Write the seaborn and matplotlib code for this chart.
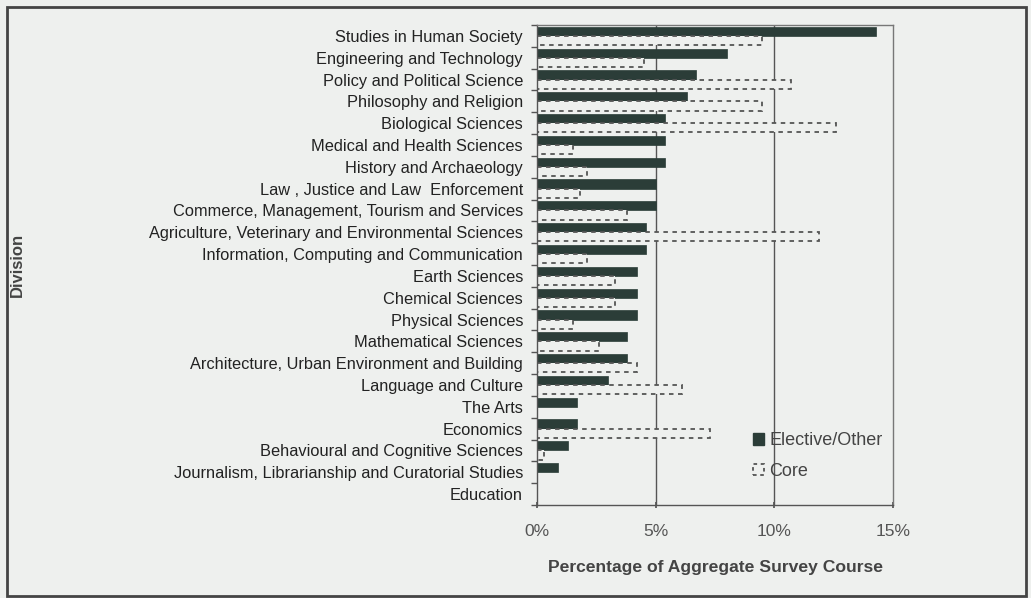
import matplotlib
matplotlib.use("Agg")
import matplotlib.pyplot as plt
import seaborn as sns
import pandas as pd
import numpy as np
from matplotlib.patches import Patch, Rectangle
from matplotlib.ticker import FixedLocator, FuncFormatter

divisions = [
    "Studies in Human Society",
    "Engineering and Technology",
    "Policy and Political Science",
    "Philosophy and Religion",
    "Biological Sciences",
    "Medical and Health Sciences",
    "History and Archaeology",
    "Law , Justice and Law  Enforcement",
    "Commerce, Management, Tourism and Services",
    "Agriculture, Veterinary and Environmental Sciences",
    "Information, Computing and Communication",
    "Earth Sciences",
    "Chemical Sciences",
    "Physical Sciences",
    "Mathematical Sciences",
    "Architecture, Urban Environment and Building",
    "Language and Culture",
    "The Arts",
    "Economics",
    "Behavioural and Cognitive Sciences",
    "Journalism, Librarianship and Curatorial Studies",
    "Education",
]
elective = [14.3, 8.0, 6.7, 6.3, 5.4, 5.4, 5.4, 5.0, 5.0, 4.6, 4.6, 4.2, 4.2, 4.2,
            3.8, 3.8, 3.0, 1.7, 1.7, 1.3, 0.9, 0.0]
core = [9.5, 4.5, 10.7, 9.5, 12.6, 1.5, 2.1, 1.8, 3.8, 11.9, 2.1, 3.3, 3.3, 1.5,
        2.6, 4.2, 6.1, 0.0, 7.3, 0.3, 0.0, 0.0]
series = ["Elective/Other", "Core"]
x_ticks = [0, 5, 10, 15]

df = pd.DataFrame({
    "Division": divisions * 2,
    "Value": elective + core,
    "Type": [series[0]] * len(divisions) + [series[1]] * len(divisions),
})

bg = "#eef0ee"
dark = "#2b3d38"

sns.set_theme(style="white")
plt.rcParams["font.family"] = ["Liberation Sans", "DejaVu Sans"]

fig = plt.figure(figsize=(10.31, 5.98), dpi=100, facecolor=bg)
axw = (893 - 537) / 1031
ax = fig.add_axes([537 / 1031, 1 - 505 / 598, axw, (505 - 25) / 598])
ax.set_facecolor(bg)

sns.barplot(data=df, y="Division", x="Value", hue="Type", order=divisions,
            hue_order=series, orient="h", width=0.84, palette=[dark, bg],
            ax=ax, legend=False)

n = len(divisions)
for i, p in enumerate(ax.patches[:2 * n]):
    if i < n:
        p.set_facecolor(dark)
        p.set_edgecolor(dark)
        p.set_linewidth(0.5)
    else:
        p.set_facecolor(bg)
        p.set_edgecolor("#555555")
        p.set_linestyle((0, (2.5, 2.5)))
        p.set_linewidth(1.3)

ax.set_xlim(0, 15)
ax.set_ylim(n - 0.5, -0.5)
ax.xaxis.set_major_locator(FixedLocator(x_ticks))
ax.xaxis.set_major_formatter(FuncFormatter(lambda v, _: f"{v:.0f}%"))
for xv in x_ticks[1:3]:
    ax.axvline(xv, color="#555555", lw=1.0, zorder=0)

ax.set_yticks(np.arange(n))
ax.set_yticklabels(divisions)
ax.set_yticks(np.arange(-0.5, n, 1.0), minor=True)
ax.tick_params(axis="y", which="major", length=0, pad=10, labelsize=11.8, labelcolor="#222222")
ax.tick_params(axis="y", which="minor", length=4, left=True, color="#555555", direction="out")
ax.tick_params(axis="x", which="major", length=4, bottom=True, direction="inout",
               color="#555555", labelsize=12.5, labelcolor="#555555", pad=12)

for s in ax.spines.values():
    s.set_visible(True)
    s.set_color("#777777")
    s.set_linewidth(1.0)
ax.spines["left"].set_color("#555555")
ax.spines["bottom"].set_color("#555555")

ax.set_ylabel("Division", fontsize=12, fontweight="bold", color="#444444")
ax.yaxis.set_label_coords((25 - 537) / 356, 0.5)
ax.set_xlabel("Percentage of Aggregate Survey Course", fontsize=12.6,
              fontweight="bold", color="#444444", labelpad=15)

handles = [Patch(facecolor=dark, edgecolor=dark, label=series[0]),
           Patch(facecolor=bg, edgecolor="#555555", linestyle=(0, (2, 2)), lw=1.3, label=series[1])]
leg = ax.legend(handles=handles, loc="upper left", bbox_to_anchor=((746 - 537) / 356, (505 - 425) / 480),
                frameon=False, fontsize=13, handlelength=0.6, handleheight=0.6,
                handletextpad=0.3, labelspacing=0.75, borderaxespad=0)
for t in leg.get_texts():
    t.set_color("#444444")

fig.patches.append(Rectangle((7 / 1031, 2 / 598), (1026 - 7) / 1031, (591 - 2) / 598,
                             transform=fig.transFigure, fill=False,
                             edgecolor="#444444", lw=2.0))

fig.savefig("out.png", dpi=100, facecolor=bg)
